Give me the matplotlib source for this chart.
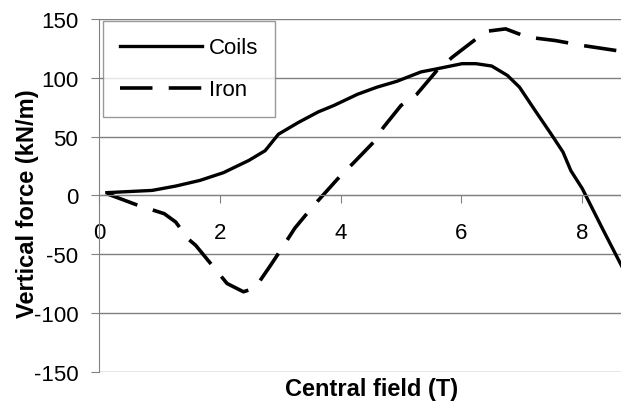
import matplotlib
matplotlib.use("Agg")
import matplotlib.pyplot as plt

plt.rcParams['font.family'] = ['Liberation Sans', 'DejaVu Sans']
plt.rcParams['axes.unicode_minus'] = False

# Data
coils_b = [0.13, 0.88, 1.27, 1.67, 2.06, 2.48, 2.75, 2.97, 3.3, 3.63, 3.89, 4.28, 4.6, 4.93,
           5.33, 5.59, 6.01, 6.24, 6.5, 6.76, 6.96, 7.22, 7.48, 7.68, 7.81, 8.0, 8.33, 8.65]
coils_f = [2.3, 4.2, 7.9, 12.7, 19.3, 29.7, 38, 52, 62, 71, 76.5, 86, 92, 97,
           105, 107.6, 112, 112, 110, 102, 92, 72, 52.4, 36.8, 21, 5.7, -28, -60]

iron_b = [0.13, 0.62, 1.08, 1.27, 1.47, 1.6, 2.12, 2.39, 2.58, 2.84, 3.04, 3.24, 3.53, 3.95,
          4.22, 4.54, 4.71, 5.0, 5.26, 5.59, 5.85, 6.24, 6.44, 6.73, 7.09, 7.55, 8.0, 8.65]
iron_f = [1.4, -8, -15.6, -22.7, -36.8, -42.5, -75, -82, -79, -59.5, -44, -28, -10, 14,
          28, 45, 58, 76.5, 86, 106, 117.6, 133, 139.7, 141.6, 134.6, 131.7, 127.5, 122.5]

x_ticks = [0, 2, 4, 6, 8]
y_ticks = [-150, -100, -50, 0, 50, 100, 150]

# Set up figure
f = plt.figure(figsize=(6.21, 4.14), dpi=100)
ax = f.add_axes([99 / 621, 1 - 372.7 / 414, 1 - 99 / 621, (372.7 - 20) / 414])

ax.plot(coils_b, coils_f, 'k-', lw=2.4, label="Coils", solid_joinstyle='round')
iron, = ax.plot(iron_b, iron_f, 'k-', lw=2.6, label="Iron")
iron.set_dashes([9, 4.5])

ax.set_xlim(0, 8.64)
ax.set_ylim(-150, 150)
ax.set_xticks(x_ticks)
ax.set_yticks(y_ticks)

# Excel style axes: x axis crosses at zero
grey = '#808080'
ax.spines['bottom'].set_position(('data', 0))
ax.spines['bottom'].set_color(grey)
ax.spines['left'].set_color(grey)
ax.spines['top'].set_visible(False)
ax.spines['right'].set_visible(False)
ax.yaxis.grid(True, color=grey, lw=1.0)
ax.set_axisbelow(True)

ax.tick_params(axis='x', direction='out', length=6, color=grey, pad=13, labelsize=16)
ax.tick_params(axis='y', direction='out', length=6, color=grey, pad=9, labelsize=16)

f.text(372 / 621, 1 - 390 / 414, "Central field (T)", ha='center', va='center',
       fontsize=17, fontweight='bold')
f.text(28 / 621, 1 - 204 / 414, "Vertical force (kN/m)", ha='center', va='center',
       rotation=90, fontsize=17, fontweight='bold')

leg = ax.legend(loc='upper left', bbox_to_anchor=(103 / 621, 1 - 21.7 / 414),
                bbox_transform=f.transFigure, fontsize=16, frameon=True, fancybox=False,
                borderaxespad=0, borderpad=0.75, handlelength=3.7, handletextpad=0.3,
                labelspacing=0.95)
leg.get_frame().set_edgecolor(grey)
leg.get_frame().set_linewidth(1.0)

plt.savefig("out.png", dpi=100)
plt.close(f)
